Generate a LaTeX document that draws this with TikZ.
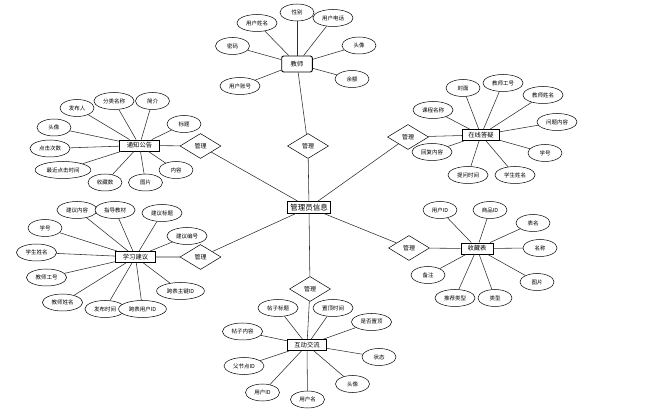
\documentclass[tikz,border=0pt]{standalone}
\usepackage{fontspec}
\setmainfont{Noto Sans CJK SC}
\usepackage{tikz}
\usetikzlibrary{shapes.geometric}
\definecolor{edgegray}{RGB}{45,45,45}
\tikzset{
  entity/.style={
    rectangle, draw=black, line width=0.9pt, fill=white,
    minimum height=11pt, inner xsep=7pt, inner ysep=2pt,
    font=\fontsize{6.3}{7}\selectfont
  },
  attr/.style={
    ellipse, draw=black, line width=0.5pt, fill=white,
    minimum width=34pt, minimum height=17pt,
    inner xsep=3.2pt, inner ysep=0.5pt, font=\fontsize{5.5}{6}\selectfont
  },
  relation/.style={
    diamond, draw=black, line width=0.5pt, fill=white,
    minimum width=41pt, minimum height=25pt, inner sep=0pt,
    font=\fontsize{6}{7}\selectfont
  },
  link/.style={draw=edgegray, line width=0.55pt},
}

\begin{document}
\begin{tikzpicture}[x=1pt, y=-1pt]
  \useasboundingbox (0,0) rectangle (646,414);

  % Centre
  \node[entity, line width=1pt, inner xsep=2.5pt, font=\fontsize{7.5}{8}\selectfont]
    (admin) at (309,207.5) {管理员信息};

  % Relations
  \node[relation] (r1) at (308,146) {管理};
  \node[relation] (r2) at (200.5,146) {管理};
  \node[relation] (r3) at (200.5,257) {管理};
  \node[relation] (r4) at (408,137) {管理};
  \node[relation] (r5) at (409,248) {管理};
  \node[relation] (r6) at (310,289) {管理};

  % Entities
  \node[entity, rounded corners=2pt, minimum height=16pt, inner xsep=9pt] (teacher) at (297,64) {教师};
  \node[entity] (notice) at (139.5,145.5) {通知公告};
  \node[entity, inner xsep=6pt] (answer) at (481,135) {在线答疑};
  \node[entity] (advice) at (135.5,257) {学习建议};
  \node[entity, inner xsep=6.5pt] (store) at (477,248.5) {收藏表};
  \node[entity] (forum) at (307,345) {互动交流};

  \foreach \r/\e in {r1/teacher, r2/notice, r3/advice, r4/answer, r5/store, r6/forum} {
    \draw[link] (admin) -- (\r) -- (\e);
  }

  % Teacher
  \foreach \n/\p/\t in {ta/{257,23}/用户姓名, tb/{297,12.5}/性别, tc/{333,18}/用户电话,
      td/{232.5,46}/密码, te/{359,45.5}/头像, tf/{240,86}/用户账号, tg/{352,79}/余额} {
    \node[attr] (\n) at (\p) {\t};
    \draw[link] (\n) -- (teacher);
  }

  % Notice
  \foreach \n/\p/\t in {na/{77,108}/发布人, nb/{114,101}/分类名称, nc/{152.5,101}/简介,
      nd/{184,124}/标题, ne/{54,127.5}/头像, nf/{50,148.5}/点击次数,
      ng/{63,170}/最近点击时间, nh/{105,182.5}/收藏数, ni/{145.5,182.5}/图片,
      nj/{176,170}/内容} {
    \node[attr] (\n) at (\p) {\t};
    \draw[link] (\n) -- (notice);
  }

  % Answer
  \foreach \n/\p/\t in {aa/{463,88}/封面, ab/{503,83}/教师工号, ac/{543,95}/教师姓名,
      ad/{433,110}/课程名称, ae/{557,122}/问题内容, af/{432,152}/回复内容,
      ag/{545,153}/学号, ah/{468,175}/提问时间, ai/{515,175}/学生姓名} {
    \node[attr] (\n) at (\p) {\t};
    \draw[link] (\n) -- (answer);
  }

  % Advice
  \foreach \n/\p/\t in {va/{77,210}/建议内容, vb/{115,210}/指导教材, vc/{162,213}/建议标题,
      vd/{187,236}/建议编号, ve/{45,228}/学号, vf/{36.5,252.5}/学生姓名,
      vg/{46.5,277.5}/教师工号, vh/{62.5,302.5}/教师姓名, vi/{105,309}/发布时间,
      vj/{142.5,309}/跨表用户ID, vk/{180.5,291}/跨表主键ID} {
    \node[attr] (\n) at (\p) {\t};
    \draw[link] (\n) -- (advice);
  }

  % Store
  \foreach \n/\p/\t in {sa/{440,210}/用户ID, sb/{490,210}/商品ID, sc/{533,223}/表名,
      sd/{540,248}/名称, se/{537,282}/图片, sf/{428,275}/备注,
      sg/{455,298}/推荐类型, sh/{495,298}/类型} {
    \node[attr] (\n) at (\p) {\t};
    \draw[link] (\n) -- (store);
  }

  % Forum
  \foreach \n/\p/\t in {fa/{278,308}/帖子标题, fb/{333,308}/置顶时间, fc/{371.5,322}/是否置顶,
      fd/{242.5,331.5}/帖子内容, fe/{379,357}/状态, ff/{244,366}/父节点ID,
      fg/{352.5,384}/头像, fh/{262.5,392.5}/用户ID, fi/{307.5,399.5}/用户名} {
    \node[attr] (\n) at (\p) {\t};
    \draw[link] (\n) -- (forum);
  }

\end{tikzpicture}
\end{document}
